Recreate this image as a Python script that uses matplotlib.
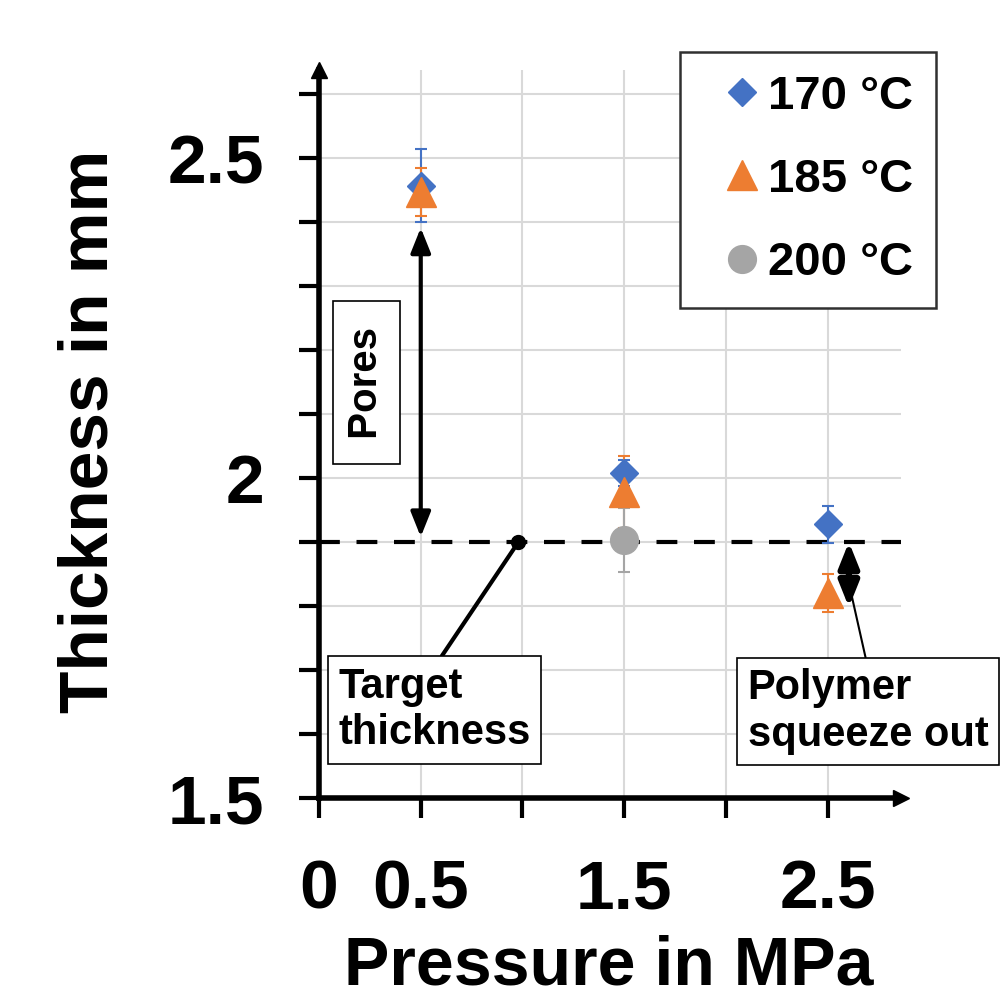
import matplotlib
matplotlib.use('Agg')
import matplotlib.pyplot as plt
from matplotlib.ticker import MultipleLocator, FixedLocator, FixedFormatter

plt.rcParams['font.family'] = ['Liberation Sans', 'DejaVu Sans']
plt.rcParams['font.weight'] = 'bold'

# data
pressure = [0.5, 1.5, 2.5]
thick_170 = [2.457, 2.008, 1.928]
err_170 = [0.057, 0.02, 0.029]
thick_185 = [2.447, 1.978, 1.82]
err_185 = [0.037, 0.056, 0.03]
pressure_200 = [1.5]
thick_200 = [1.903]
err_200 = [0.05]
target_thickness = 1.9

labels = ['170 °C', '185 °C', '200 °C']
colors = ['#4472C4', '#ED7D31', '#A5A5A5']
markers = ['D', '^', 'o']
marker_sizes = [14.3, 21, 20]

x_ticks = [0, 0.5, 1.0, 1.5, 2.0, 2.5]
x_tick_labels = ['0', '0.5', '', '1.5', '', '2.5']
y_ticks = [1.5, 2.0, 2.5]
y_tick_labels = ['1.5', '2', '2.5']

fig = plt.figure(figsize=(10.06, 10), dpi=100)
ax = fig.add_axes([319 / 1006, 0.202, 582 / 1006, 0.728])
ax.set_xlim(0, 2.86)
ax.set_ylim(1.5, 2.6375)

# grid
ax.yaxis.set_minor_locator(MultipleLocator(0.1))
ax.xaxis.set_major_locator(FixedLocator(x_ticks))
ax.xaxis.set_major_formatter(FixedFormatter(x_tick_labels))
ax.yaxis.set_major_locator(FixedLocator(y_ticks))
ax.yaxis.set_major_formatter(FixedFormatter(y_tick_labels))
ax.grid(True, which='both', axis='y', color='#d9d9d9', lw=1.5)
ax.grid(True, which='major', axis='x', color='#d9d9d9', lw=1.5)
ax.set_axisbelow(True)

# target line
ax.axhline(target_thickness, color='black', lw=3, dashes=(5, 4), zorder=2)

series = [
    (pressure, thick_170, err_170),
    (pressure, thick_185, err_185),
    (pressure_200, thick_200, err_200),
]
handles = []
for (xs, ys, es), lab, c, m, ms in zip(series, labels, colors, markers, marker_sizes):
    cont = ax.errorbar(xs, ys, yerr=es, fmt=m, color=c, ms=ms, mec=c,
                       ecolor=c, elinewidth=1.5, capsize=4.5, capthick=1.5,
                       label=lab, zorder=3)
    handles.append(cont[0])

# spines and ticks
for s in ['top', 'right']:
    ax.spines[s].set_visible(False)
for s in ['left', 'bottom']:
    ax.spines[s].set_linewidth(4)
ax.tick_params(axis='both', which='both', direction='out', length=14.5,
               width=3, labelsize=50)
ax.tick_params(axis='x', pad=29)
ax.tick_params(axis='y', pad=25)
for lbl in ax.get_xticklabels() + ax.get_yticklabels():
    lbl.set_fontweight('bold')
ax.plot(1, 0, '>k', ms=11, transform=ax.transAxes, clip_on=False)
ax.plot(0, 1, '^k', ms=11, transform=ax.transAxes, clip_on=False)

ax.set_xlabel('Pressure in MPa', fontsize=49, fontweight='bold')
ax.set_ylabel('Thickness in mm', fontsize=50, fontweight='bold')
ax.xaxis.set_label_coords(0.497, -0.188)
ax.yaxis.set_label_coords(-0.339, 0.504)

# annotations
box = dict(boxstyle='square,pad=0.25', fc='white', ec='black', lw=1.2)
ax.text(0.233, 2.149, ' Pores ', rotation=90, fontsize=29, fontweight='bold',
        ha='center', va='center', bbox=dict(boxstyle='square,pad=0.35',
                                            fc='white', ec='black', lw=1.2))
ax.annotate('', xy=(0.5, 1.908), xytext=(0.5, 2.391),
            arrowprops=dict(arrowstyle='<|-|>,head_length=0.75,head_width=0.3',
                            mutation_scale=20, lw=3, color='black',
                            shrinkA=0, shrinkB=0))
ax.plot(0.98, target_thickness, 'o', color='black', ms=10, zorder=4)
ax.annotate('Target\nthickness', xy=(0.98, target_thickness),
            xytext=(0.5676, 1.6375), fontsize=30, fontweight='bold',
            ha='center', va='center', multialignment='left', bbox=box,
            arrowprops=dict(arrowstyle='-', lw=3, color='black', relpos=(0.5, 1),
                            shrinkA=0, shrinkB=0))
ax.annotate('', xy=(2.604, 1.798), xytext=(2.604, 1.90),
            arrowprops=dict(arrowstyle='<|-|>,head_length=0.75,head_width=0.3',
                            mutation_scale=20, lw=4.5, color='black',
                            shrinkA=0, shrinkB=0))
ax.annotate('Polymer\nsqueeze out', xy=(2.61, 1.827), xytext=(2.698, 1.635),
            fontsize=30, fontweight='bold', ha='center', va='center',
            multialignment='left', bbox=box, annotation_clip=False,
            arrowprops=dict(arrowstyle='-', lw=1.5, color='black', relpos=(0.5, 1),
                            shrinkA=0, shrinkB=0))

leg = ax.legend(handles=handles, labels=labels, loc='upper left',
                bbox_to_anchor=(680 / 1006, 1 - 52 / 1000),
                bbox_transform=fig.transFigure, borderaxespad=0,
                prop={'size': 34, 'weight': 'bold'}, frameon=True, fancybox=False,
                edgecolor='#303030', framealpha=1, borderpad=0.48,
                labelspacing=0.83, handlelength=1.68, handletextpad=-0.3)
leg.get_frame().set_linewidth(1.8)

fig.savefig('out.png', dpi=100)
